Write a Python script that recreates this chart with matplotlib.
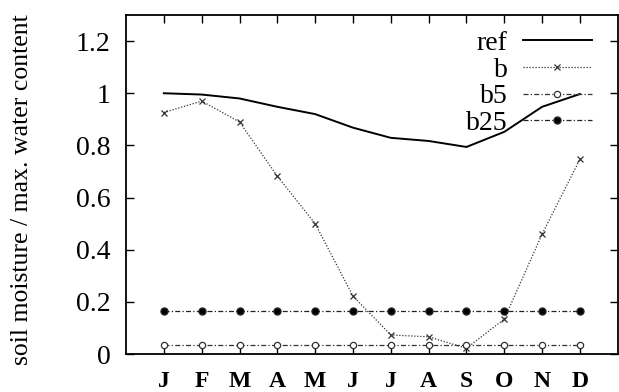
import matplotlib
matplotlib.use("Agg")
import matplotlib.pyplot as plt
from matplotlib.ticker import FormatStrFormatter

# monthly values
months = ["J", "F", "M", "A", "M", "J", "J", "A", "S", "O", "N", "D"]
ref = [1.0, 0.995, 0.98, 0.948, 0.92, 0.868, 0.829, 0.817, 0.794, 0.852, 0.948, 0.997]
b = [0.926, 0.97, 0.89, 0.682, 0.50, 0.222, 0.073, 0.066, 0.022, 0.134, 0.46, 0.747]
b5 = [0.033] * 12
b25 = [0.166] * 12

plt.rcParams['font.family'] = ['Liberation Serif', 'DejaVu Serif']

fig = plt.figure(figsize=(6.19, 3.92), dpi=100)
ax = fig.add_axes([0.2036, 0.0969, 0.7944, 0.8648])

x = list(range(1, 13))
ax.plot(x, ref, color='black', linewidth=1.4, label='ref')
ax.plot(x, b, color='#333333', linewidth=0.9, linestyle=(0, (1, 1.4)),
        marker='x', markersize=5, markeredgewidth=0.9, label='b')
ax.plot(x, b5, color='#333333', linewidth=0.9, linestyle=(0, (4, 1.8, 1, 1.8)),
        marker='o', markersize=4.5, markerfacecolor='white', markeredgewidth=0.9, label='b5')
ax.plot(x, b25, color='#222222', linewidth=0.9, linestyle=(0, (4, 1.8, 1, 1.8)),
        marker='o', markersize=5, markerfacecolor='black', label='b25')

ax.set_xlim(0, 13)
ax.set_ylim(0, 1.3)
ax.set_xticks(x)
ax.set_xticklabels(months, fontsize=17, fontweight='bold')
ax.set_yticks([0, 0.2, 0.4, 0.6, 0.8, 1.0, 1.2])
ax.yaxis.set_major_formatter(FormatStrFormatter('%g'))
ax.tick_params(axis='y', labelsize=20, pad=11)
ax.tick_params(axis='x', pad=12)
ax.tick_params(direction='in', length=6, width=1, top=True, right=True)
for s in ax.spines.values():
    s.set_linewidth(1.3)

fig.text(22 / 619, 1 - 190 / 392, 'soil moisture / max. water content',
         rotation=90, ha='center', va='center', fontsize=18.5)

ax.legend(loc='upper right', bbox_to_anchor=(0.948, 0.955), frameon=False,
          markerfirst=False, fontsize=20, handlelength=2.5, handletextpad=0.55,
          labelspacing=0.05, borderaxespad=0, borderpad=0)

fig.savefig('out.png', dpi=100)
